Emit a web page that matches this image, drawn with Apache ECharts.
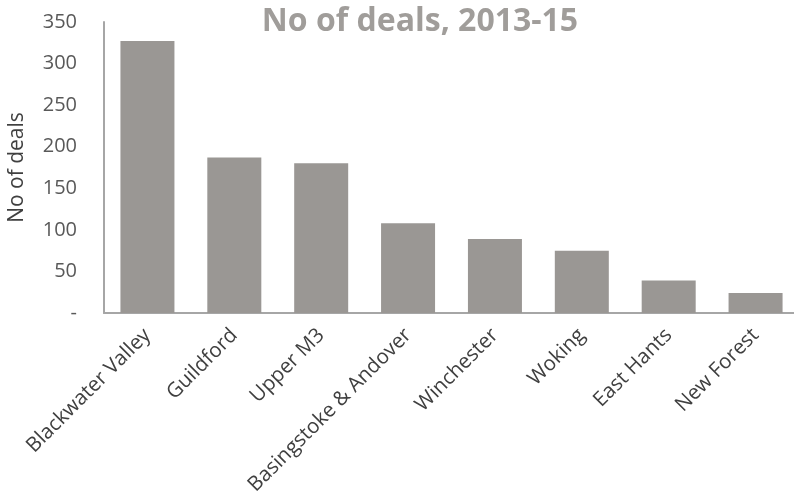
<!DOCTYPE html>
<html>
<head>
<meta charset="utf-8">
<script src="https://cdn.jsdelivr.net/npm/echarts@6/dist/echarts.min.js"></script>
<style>html,body{margin:0;padding:0;background:#fff}#c{width:794px;height:501px}</style>
</head>
<body>
<div id="c"></div>
<script>
const categories = ["Blackwater Valley","Guildford","Upper M3","Basingstoke & Andover","Winchester","Woking","East Hants","New Forest"];
const deals = [327, 187, 180, 108, 89, 75, 39, 24];
const yTicks = [0, 50, 100, 150, 200, 250, 300, 350];

const chart = echarts.init(document.getElementById('c'), null, {renderer: 'canvas'});
chart.setOption({
  animation: false,
  title: {
    text: 'No of deals, 2013-15',
    left: 415, top: 1, textAlign: 'center',
    textStyle: {fontFamily: 'Open Sans', fontWeight: 'bold', fontSize: 32, color: '#a09d9a'}
  },
  grid: {left: 104, top: 22, width: 695, bottom: 188, containLabel: false, outerBoundsMode: 'none'},
  xAxis: {
    type: 'category', data: categories,
    axisLine: {lineStyle: {color: '#a6a6a6', width: 2}},
    axisTick: {show: false},
    axisLabel: {rotate: 45, fontFamily: 'Open Sans', fontSize: 20.5, color: '#404040', margin: 19, interval: 0}
  },
  yAxis: {
    type: 'value', min: yTicks[0], max: yTicks[yTicks.length-1], interval: 50,
    name: 'No of deals', nameLocation: 'middle', nameGap: 76, nameRotate: 90,
    nameTextStyle: {fontFamily: 'Open Sans', fontSize: 21, color: '#404040'},
    axisLine: {show: true, lineStyle: {color: '#a6a6a6', width: 2}},
    axisTick: {show: false},
    splitLine: {show: false},
    axisLabel: {fontFamily: 'Open Sans', fontSize: 20, color: '#595959', margin: 27,
      formatter: v => v === 0 ? '-' : String(v)}
  },
  series: [{
    type: 'bar', data: deals, barWidth: 54,
    itemStyle: {color: '#9a9794'}
  }]
});
</script>
</body>
</html>
